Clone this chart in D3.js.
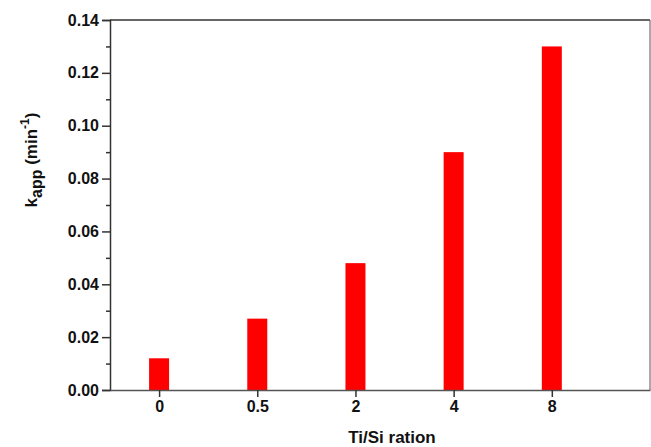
<!DOCTYPE html>
<html>
<head>
<meta charset="utf-8">
<script src="https://cdn.jsdelivr.net/npm/d3@7"></script>
<style>
  body { margin: 0; background: #fff; }
  text { font-family: "Liberation Sans", Arial, sans-serif; font-weight: bold; fill: #111; }
</style>
</head>
<body>
<script>
// data
var categories = ["0", "0.5", "2", "4", "8"];
var kapp = [0.012, 0.027, 0.048, 0.09, 0.13];
var yTicks = [0, 0.02, 0.04, 0.06, 0.08, 0.10, 0.12, 0.14];

var W = 651, H = 447;
var margin = { top: 20, right: 1, bottom: 57, left: 110 },
  width = W - margin.left - margin.right,
  height = H - margin.top - margin.bottom;

var svg = d3.select("body").append("svg")
  .attr("width", W)
  .attr("height", H);

var g = svg.append("g")
  .attr("transform", "translate(" + margin.left + "," + margin.top + ")");

// x: category index on a linear scale so the axis runs past the last bar
var x = d3.scaleLinear()
  .domain([-0.5, 5])
  .range([0, width]);

var y = d3.scaleLinear()
  .domain([0, 0.14])
  .range([height, 0]);

var barW = 20;

// bars
g.selectAll("rect.bar")
  .data(kapp)
  .enter()
  .append("rect")
  .attr("class", "bar")
  .attr("x", (d, i) => x(i) - barW / 2)
  .attr("y", d => y(d))
  .attr("width", barW)
  .attr("height", d => y(0) - y(d))
  .style("fill", "#ff0000");

// frame (top and right)
g.append("line").attr("x1", 0).attr("x2", width).attr("y1", 0).attr("y2", 0)
  .attr("stroke", "#333").attr("stroke-width", 1.5);
g.append("line").attr("x1", width).attr("x2", width).attr("y1", 0).attr("y2", height)
  .attr("stroke", "#555").attr("stroke-width", 1);

// Y axis with minor ticks
var minor = d3.range(0.01, 0.14, 0.02);
g.append("g")
  .call(d3.axisLeft(y).tickValues(minor).tickSize(4).tickFormat(""))
  .call(a => a.select(".domain").remove())
  .selectAll("line").attr("stroke", "#333").attr("stroke-width", 1.5);

var yAxis = g.append("g")
  .call(d3.axisLeft(y).tickValues(yTicks).tickSize(8).tickPadding(3)
    .tickFormat(d3.format(".2f")));
yAxis.select(".domain").attr("stroke", "#333").attr("stroke-width", 1.5);
yAxis.selectAll(".tick line").attr("stroke", "#333").attr("stroke-width", 1.5);
yAxis.selectAll("text").style("font-size", "16px").attr("fill", "#111");

// X axis
var xAxis = g.append("g")
  .attr("transform", "translate(0," + height + ")")
  .call(d3.axisBottom(x).tickValues(d3.range(categories.length))
    .tickFormat(i => categories[i]).tickSize(7).tickPadding(4).tickSizeOuter(0));
xAxis.select(".domain").attr("stroke", "#555").attr("stroke-width", 1.5);
xAxis.selectAll(".tick line").attr("stroke", "#333").attr("stroke-width", 1.5);
xAxis.selectAll("text").style("font-size", "16px").attr("fill", "#111");

// axis titles
svg.append("text")
  .attr("x", 392)
  .attr("y", 443)
  .attr("text-anchor", "middle")
  .style("font-size", "17px")
  .text("Ti/Si ration");

var yt = svg.append("text")
  .attr("transform", "translate(37,160) rotate(-90)")
  .attr("text-anchor", "middle")
  .style("font-size", "17px");
yt.append("tspan").text("k");
yt.append("tspan").attr("dy", 5).style("font-size", "16px").text("app");
yt.append("tspan").attr("dy", -5).text(" (min");
yt.append("tspan").attr("dy", -8).style("font-size", "12px").text("-1");
yt.append("tspan").attr("dy", 8).text(")");
</script>
</body>
</html>
